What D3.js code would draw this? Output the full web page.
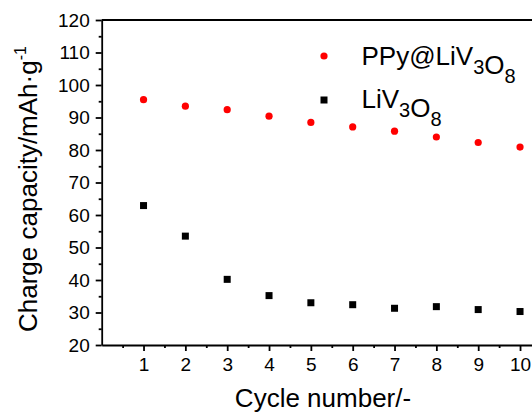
<!DOCTYPE html>
<html>
<head>
<meta charset="utf-8">
<script src="https://cdn.jsdelivr.net/npm/d3@7"></script>
<style>
  html, body { margin: 0; padding: 0; background: #fff; }
  svg { display: block; }
  text { font-family: "Liberation Sans", Arial, sans-serif; }
</style>
</head>
<body>
<svg id="chart" width="532" height="413"></svg>
<script>
// ---- data ----
const cycles = [1, 2, 3, 4, 5, 6, 7, 8, 9, 10];
const ppyValues = [95.5, 93.5, 92.4, 90.4, 88.5, 87.1, 85.8, 84.0, 82.3, 80.9];
const livValues = [62.9, 53.5, 40.2, 35.2, 33.0, 32.4, 31.3, 31.8, 30.9, 30.3];
const xTicks = [1, 2, 3, 4, 5, 6, 7, 8, 9, 10];
const yTicks = [20, 30, 40, 50, 60, 70, 80, 90, 100, 110, 120];

(function () {
const svg = d3.select("#chart");
const mLeft = 101.7, mTop = 20, mBottom = 345;
const unit = (520 - 143.5) / 9;
const x = d3.scaleLinear().domain([0, 10.5]).range([mLeft, mLeft + 10.5 * unit]);
const y = d3.scaleLinear().domain([20, 120]).range([mBottom, mTop]);

// minor ticks
const xMinor = d3.range(0.5, 10.5, 1);
const yMinor = d3.range(25, 120, 10);

const gx = svg.append("g").attr("transform", `translate(0,${mBottom})`);
gx.call(d3.axisBottom(x).tickValues(xMinor).tickSize(3).tickFormat(""));
gx.call(g => g.select(".domain").remove());
const gx2 = svg.append("g").attr("transform", `translate(0,${mBottom})`);
gx2.call(d3.axisBottom(x).tickValues(xTicks).tickSize(6).tickPadding(7).tickSizeOuter(0).tickFormat(d3.format("d")));

const gy = svg.append("g").attr("transform", `translate(${mLeft},0)`);
gy.call(d3.axisLeft(y).tickValues(yMinor).tickSize(3).tickFormat(""));
gy.call(g => g.select(".domain").remove());
const gy2 = svg.append("g").attr("transform", `translate(${mLeft},0)`);
gy2.call(d3.axisLeft(y).tickValues(yTicks).tickSize(6).tickPadding(6).tickSizeOuter(0).tickFormat(d3.format("d")));

svg.selectAll(".domain, .tick line").attr("stroke", "#000").attr("stroke-width", 1.8);
svg.selectAll(".tick text").attr("font-size", 19).attr("fill", "#000")
   .attr("font-family", "Liberation Sans, Arial, sans-serif");

// top frame line
svg.append("line").attr("x1", mLeft).attr("x2", x(10.5)).attr("y1", y(120)).attr("y2", y(120))
   .attr("stroke", "#000").attr("stroke-width", 1.8);

// data
svg.append("g").selectAll("circle").data(cycles).join("circle")
  .attr("cx", (d) => x(d)).attr("cy", (d, i) => y(ppyValues[i])).attr("r", 3.6).attr("fill", "#ff0000");
svg.append("g").selectAll("rect").data(cycles).join("rect")
  .attr("x", (d) => x(d) - 3.5).attr("y", (d, i) => y(livValues[i]) - 3.5)
  .attr("width", 7).attr("height", 7).attr("fill", "#000");

// legend
svg.append("circle").attr("cx", 324).attr("cy", 56).attr("r", 3.6).attr("fill", "#ff0000");
svg.append("rect").attr("x", 320.5).attr("y", 96.5).attr("width", 7).attr("height", 7).attr("fill", "#000");

function formula(t, parts) {
  parts.forEach(p => {
    if (p.sub) {
      t.append("tspan").attr("font-size", 20).attr("dy", 9).text(p.text);
      t.append("tspan").attr("dy", -9).text("");
    } else {
      t.append("tspan").text(p.text);
    }
  });
}
const l1 = svg.append("text").attr("x", 361.5).attr("y", 65).attr("font-size", 26).attr("fill", "#000");
formula(l1, [{text: "PPy@LiV"}, {text: "3", sub: true}, {text: "O"}, {text: "8", sub: true}]);
const l2 = svg.append("text").attr("x", 361.5).attr("y", 108).attr("font-size", 26).attr("fill", "#000");
formula(l2, [{text: "LiV"}, {text: "3", sub: true}, {text: "O"}, {text: "8", sub: true}]);

// axis titles
svg.append("text").attr("x", 323).attr("y", 407).attr("text-anchor", "middle")
   .attr("font-size", 26).attr("fill", "#000").text("Cycle number/-");

const yt = svg.append("text").attr("transform", "translate(37,332) rotate(-90)")
   .attr("font-size", 26).attr("fill", "#000");
yt.append("tspan").text("Charge capacity/mAh·g");
yt.append("tspan").attr("font-size", 16).attr("dy", -11).text("-1");
})();
</script>
</body>
</html>
